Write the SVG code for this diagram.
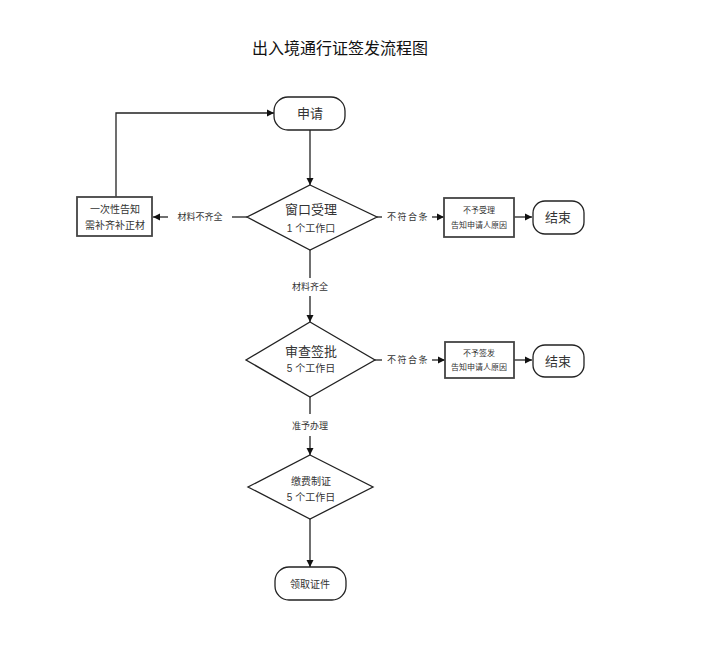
<svg xmlns="http://www.w3.org/2000/svg" width="712" height="665" viewBox="0 0 712 665">
<style>
text{font-family:"Liberation Sans","Noto Sans CJK SC",sans-serif;fill:#333;text-anchor:middle}
.t{font-size:16px;fill:#111}
.n{font-size:13px}
.s{font-size:10px}
.xs{font-size:8px}
.l{font-size:9px}
.w{letter-spacing:1.5px}
.shape{fill:#fff;stroke:#222;stroke-width:1.3}
.box{fill:#fff;stroke:#444;stroke-width:1.8}
.c{fill:none;stroke:#222;stroke-width:1.3}
</style>
<defs>
<marker id="a" markerWidth="8" markerHeight="8" refX="7" refY="4" orient="auto" markerUnits="userSpaceOnUse">
<path d="M0,0.5 L7,4 L0,7.5 Z" fill="#111"/>
</marker>
</defs>
<rect width="712" height="665" fill="#fff"/>
<text class="t" x="340" y="54">出入境通行证签发流程图</text>
<g id="connectors">
<path class="c" d="M310,130 V185" marker-end="url(#a)"/>
<path class="c" d="M247,217 H232"/>
<path class="c" d="M168,217 H153" marker-end="url(#a)"/>
<text class="l" x="200" y="220">材料不齐全</text>
<path class="c" d="M377,217 H382"/>
<path class="c" d="M116,197 V113 H274" marker-end="url(#a)"/>
<path class="c" d="M432,217 H444" marker-end="url(#a)"/>
<text class="l w" x="408" y="220">不符合条</text>
<path class="c" d="M514,217 H532" marker-end="url(#a)"/>
<path class="c" d="M310,250 V278"/>
<path class="c" d="M310,296 V322" marker-end="url(#a)"/>
<text class="l" x="310" y="290">材料齐全</text>
<path class="c" d="M375,360 H382"/>
<path class="c" d="M432,360 H445" marker-end="url(#a)"/>
<text class="l w" x="408" y="363">不符合条</text>
<path class="c" d="M514,360 H532" marker-end="url(#a)"/>
<path class="c" d="M310,397 V414"/>
<path class="c" d="M310,436 V455" marker-end="url(#a)"/>
<text class="l" x="310" y="429">准予办理</text>
<path class="c" d="M310,519 V567" marker-end="url(#a)"/>
</g>
<g id="apply">
<rect class="shape" x="274" y="97" width="71" height="33" rx="14"/>
<text class="n" x="310" y="118">申请</text>
</g>
<g id="window">
<polygon class="shape" points="310,185 377,217 310,250 247,217"/>
<text class="n" x="311" y="214">窗口受理</text>
<text class="s" x="311" y="232">1 个工作口</text>
</g>
<g id="notify">
<rect class="box" x="77" y="197" width="75" height="39"/>
<text class="s" x="115" y="213">一次性告知</text>
<text class="s" x="115" y="229">需补齐补正材</text>
</g>
<g id="reject1">
<rect class="box" x="444" y="198" width="70" height="39"/>
<text class="xs" x="479" y="213">不予受理</text>
<text class="xs" x="479" y="228">告知申请人原因</text>
</g>
<g id="end1">
<rect class="shape" x="533" y="201" width="51" height="33" rx="12"/>
<text class="n" x="558" y="222">结束</text>
</g>
<g id="review">
<polygon class="shape" points="310,322 375,360 310,397 246,360"/>
<text class="n" x="311" y="356">审查签批</text>
<text class="s" x="311" y="372">5 个工作日</text>
</g>
<g id="reject2">
<rect class="box" x="445" y="342" width="69" height="36"/>
<text class="xs" x="479" y="356">不予签发</text>
<text class="xs" x="479" y="370">告知申请人原因</text>
</g>
<g id="end2">
<rect class="shape" x="533" y="345" width="51" height="32" rx="12"/>
<text class="n" x="558" y="366">结束</text>
</g>
<g id="fee">
<polygon class="shape" points="310,455 373,487 310,519 248,487"/>
<text class="s" x="311" y="485">缴费制证</text>
<text class="s" x="311" y="501">5 个工作日</text>
</g>
<g id="collect">
<rect class="shape" x="275" y="567" width="71" height="33" rx="14"/>
<text class="s" x="310" y="588">领取证件</text>
</g>
</svg>
